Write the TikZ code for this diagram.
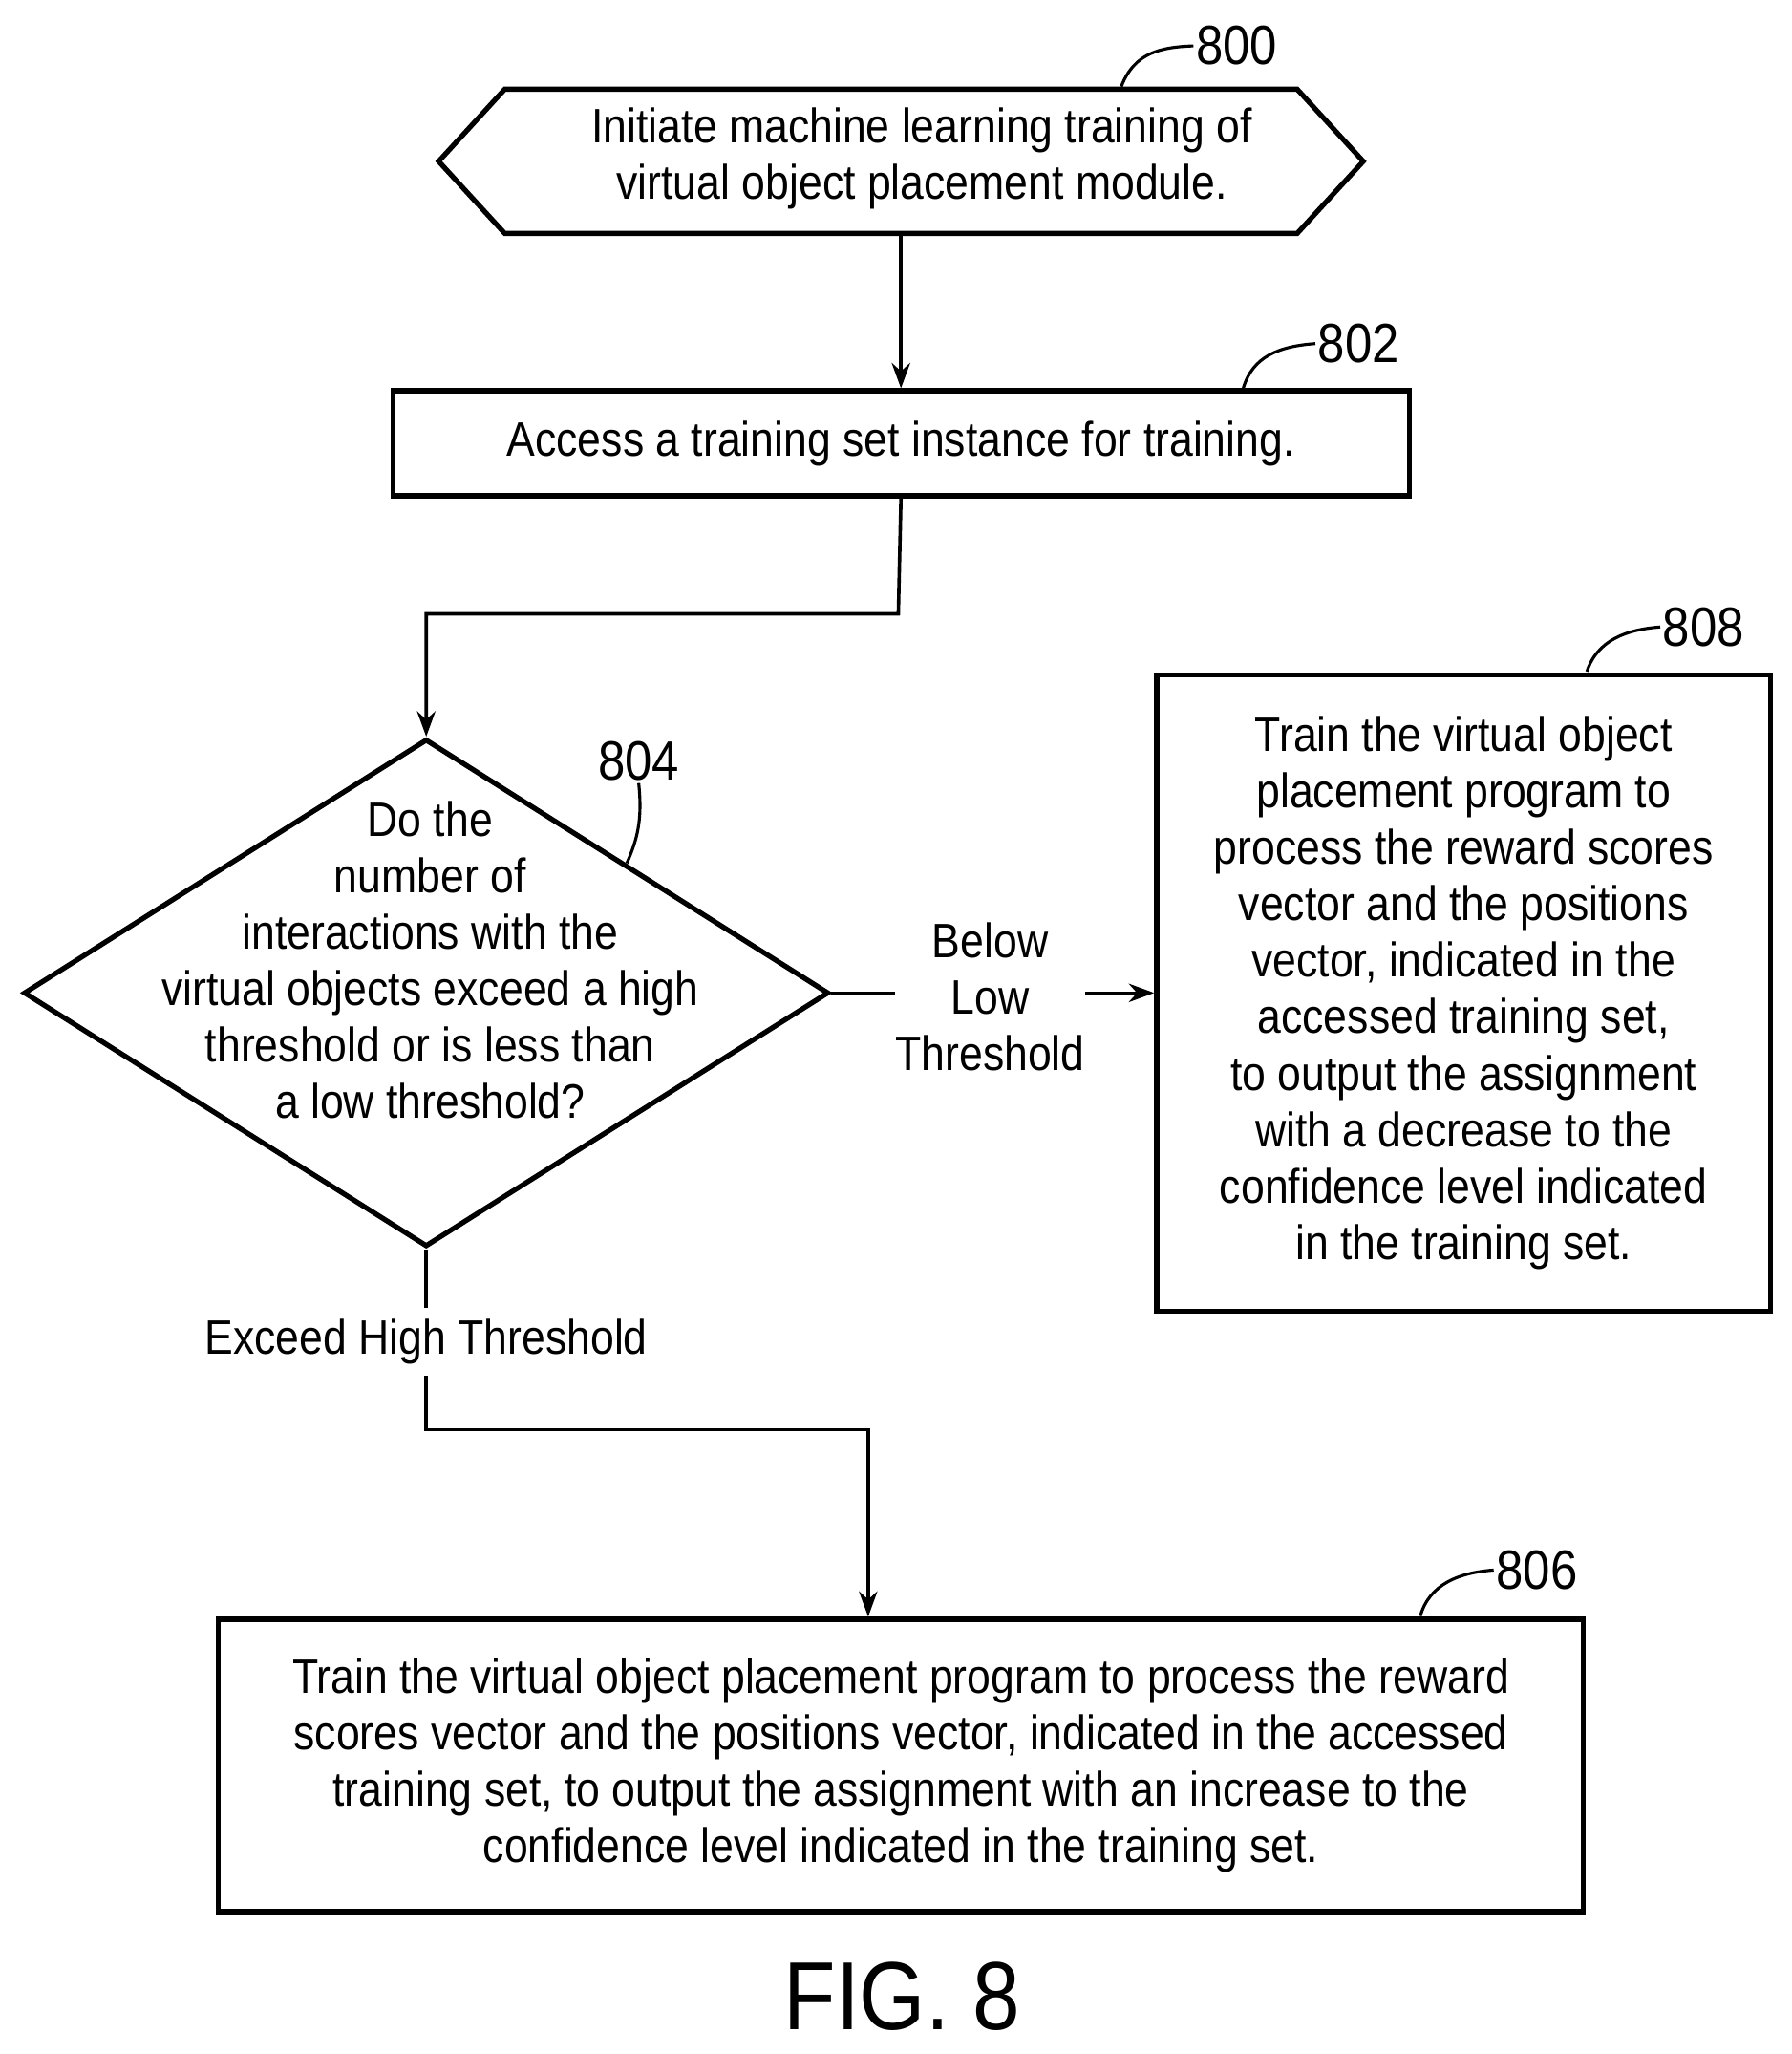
\documentclass[tikz,border=0pt]{standalone}
\usepackage{fontspec}
\setmainfont{Liberation Sans}[FakeStretch=0.88]
\usetikzlibrary{positioning}
\usetikzlibrary{shapes.geometric,shapes.symbols}
\usetikzlibrary{arrows.meta}

\tikzset{
  box/.style={draw,line width=2.2pt,inner sep=0pt,align=center},
  txt/.style={align=center,inner sep=0pt,font=\fontsize{21}{24.5}\selectfont},
  flow/.style={line width=1.5pt,-{Stealth[length=11pt,width=8pt]}},
  lead/.style={line width=1.3pt},
  ref/.style={font=\fontsize{24}{24}\selectfont,inner sep=1pt}
}

\begin{document}
\begin{tikzpicture}[x=0.02cm,y=-0.02cm]
		\useasboundingbox (0,0) rectangle (1366,1566);
		% start
		\node [box,signal,signal to=east and west,signal pointer angle=95,
		       minimum width=705*0.02cm,minimum height=110*0.02cm] (s800) at (687,123) {};
		\node [txt] at (703,121) {Initiate machine learning training of\\virtual object placement module.};
		\node [ref] (n800) at (943,35) {800};
		\draw [lead] (855,66) .. controls (865,40) and (885,36) .. (n800.west);
		% access
		\node [box,minimum width=775*0.02cm,minimum height=80*0.02cm,txt] (s802) at (687,338) {Access a training set instance for training.};
		\node [ref] (n802) at (1036,262) {802};
		\draw [lead] (948,296) .. controls (955,272) and (975,264) .. (n802.west);
		% decision
		\node [draw,diamond,line width=2.2pt,inner sep=0pt,minimum width=614*0.02cm,minimum height=387*0.02cm] (s804) at (325,757) {};
		\node [txt] at (328,732) {Do the\\number of\\interactions with the\\virtual objects exceed a high\\threshold or is less than\\a low threshold?};
		\node [ref] (n804) at (487,580) {804};
		\draw [lead] (478,658) .. controls (486,640) and (490,625) .. (n804.south);
		% low branch
		\node [box,minimum width=468*0.02cm,minimum height=485*0.02cm,txt] (s808) at (1116,757)
		  {Train the virtual object\\placement program to\\process the reward scores\\vector and the positions\\vector, indicated in the\\accessed training set,\\to output the assignment\\with a decrease to the\\confidence level indicated\\in the training set.};
		\node [ref] (n808) at (1299,478) {808};
		\node [txt] (lbl-low) at (755,760) {Below\\Low\\Threshold};
		\draw [line width=1.5pt] (s804.east) -- (lbl-low.west |- s804.east);
		\draw [flow] (lbl-low.east |- s808.west) -- (s808.west);
		\draw [lead] (1210,512) .. controls (1218,488) and (1240,480) .. (n808.west);
		% high branch
		\node [box,minimum width=1041*0.02cm,minimum height=223*0.02cm,txt] (s806) at (687,1346)
		  {Train the virtual object placement program to process the reward\\scores vector and the positions vector, indicated in the accessed\\training set, to output the assignment with an increase to the\\confidence level indicated in the training set.};
		\node [ref] (n806) at (1172,1197) {806};
		\draw [lead] (1083,1232) .. controls (1090,1208) and (1112,1199) .. (n806.west);
		\draw [line width=1.5pt] (s804.south) -- (325,1058);
		\draw [flow] (325,1058) -- (325,1090) -- (662,1090) -- (s806.north -| 662,0);
		\node [txt,fill=white,inner sep=5pt] (lbl-high) at (325,1023) {Exceed High Threshold};
		% connectors
		\draw [flow] (s800.south) -- (s802.north);
		\draw [flow] (s802.south) -- (685,468) -- (325,468) -- (s804.north);
		\node [font=\fontsize{42}{42}\selectfont] (fig) at (688,1522) {FIG. 8};
\end{tikzpicture}
\end{document}
